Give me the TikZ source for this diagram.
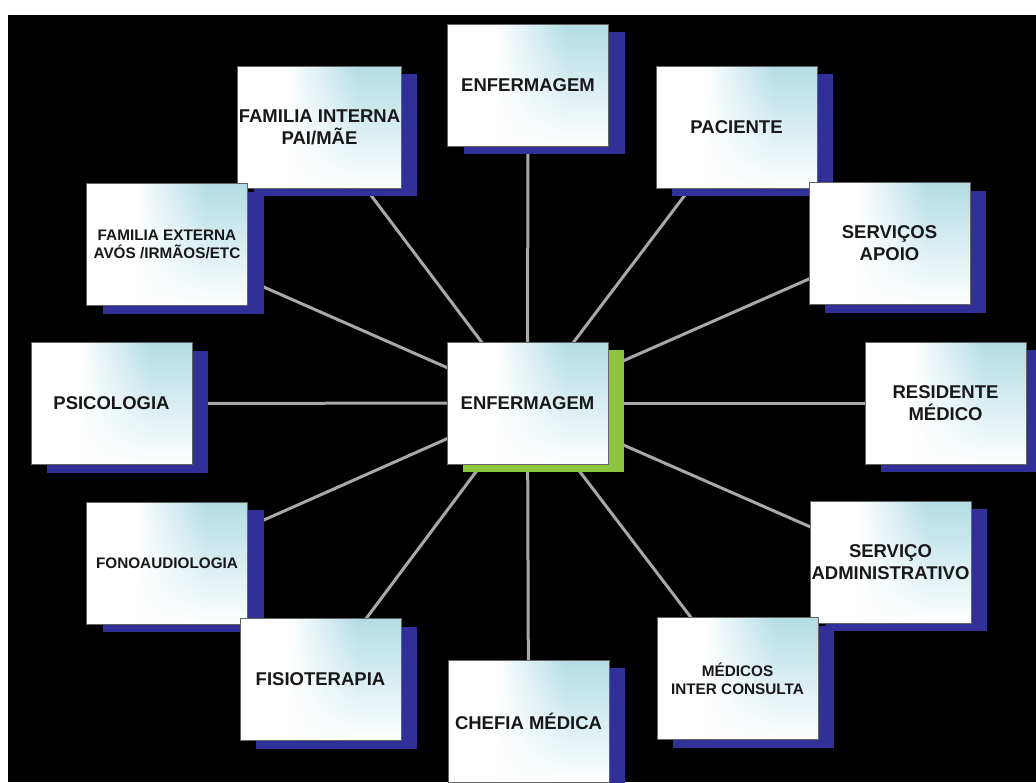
\documentclass[tikz,border=0pt]{standalone}
\usepackage{fontspec}
\setmainfont{Liberation Sans}
\usetikzlibrary{fadings,shadows,backgrounds}

\definecolor{boxcyan}{RGB}{178,221,228}
\definecolor{shadowblue}{RGB}{48,48,152}
\definecolor{shadowgreen}{RGB}{140,198,62}
\definecolor{linkgray}{RGB}{168,168,168}
\definecolor{edgegray}{RGB}{100,100,100}
\definecolor{labelink}{RGB}{24,24,24}

% white on the left, light cyan towards the right edge
\pgfdeclarehorizontalshading{boxglow}{100bp}{color(0bp)=(white); color(25bp)=(white); color(40bp)=(white); color(62bp)=(boxcyan); color(100bp)=(boxcyan)}
% white wash that grows towards the bottom of each card
\tikzfading[name=lowerwhite, top color=transparent!100, middle color=transparent!78, bottom color=transparent!0]

\begin{document}
\begin{tikzpicture}[x=1pt,y=-1pt,
  card/.style={draw=edgegray, line width=0.8pt, shade, shading=boxglow,
    minimum width=161pt, minimum height=122pt, inner sep=1pt, align=center,
    text=labelink, font=\bfseries\fontsize{18.5}{22}\selectfont,
    path picture={\fill[white, path fading=lowerwhite]
      (path picture bounding box.south west) rectangle (path picture bounding box.north east);}},
  bluecard/.style={card, general shadow={fill=shadowblue, shadow xshift=16pt, shadow yshift=-8pt}},
  hubcard/.style={card, general shadow={fill=shadowgreen, shadow xshift=16pt, shadow yshift=-8pt}},
  small/.style={font=\bfseries\fontsize{15.3}{18}\selectfont},
  link/.style={draw=linkgray, line width=3pt}]

\useasboundingbox (0,0) rectangle (1036,782);

% outer cards, drawn from top to bottom so lower cards overlap upper shadows
\node[bluecard] (top) at (528,85) {ENFERMAGEM};
\node[bluecard] (famint) at (319.5,127) {FAMILIA INTERNA\\PAI/MÃE};
\node[bluecard] (pac) at (736.5,127) {PACIENTE};
\node[bluecard, small] (famext) at (167,244.5) {FAMILIA EXTERNA\\AVÓS /IRMÃOS/ETC};
\node[bluecard] (apoio) at (889.5,243.5) {SERVIÇOS\\APOIO};
\node[bluecard] (psi) at (111.5,403.5) {PSICOLOGIA};
\node[hubcard] (hub) at (527.5,403) {ENFERMAGEM};
\node[bluecard] (res) at (945.5,403) {RESIDENTE\\MÉDICO};
\node[bluecard, small] (fono) at (167,563) {FONOAUDIOLOGIA};
\node[bluecard] (adm) at (890.5,562) {SERVIÇO\\ADMINISTRATIVO};
\node[bluecard] (fisio) at (320.5,679.5) {FISIOTERAPIA};
\node[bluecard, small] (medicos) at (737.5,678.5) {MÉDICOS\\INTER CONSULTA};
\node[bluecard] (chefia) at (528.5,721) {CHEFIA MÉDICA};

\begin{scope}[on background layer]
  \fill[white] (0,0) rectangle (1036,782);
  \fill[black] (8,15) rectangle (1036,782);
  \foreach \n in {top,famint,pac,famext,apoio,psi,res,fono,adm,fisio,medicos,chefia}
    \draw[link] (hub.center) -- (\n.center);
\end{scope}
\end{tikzpicture}
\end{document}
